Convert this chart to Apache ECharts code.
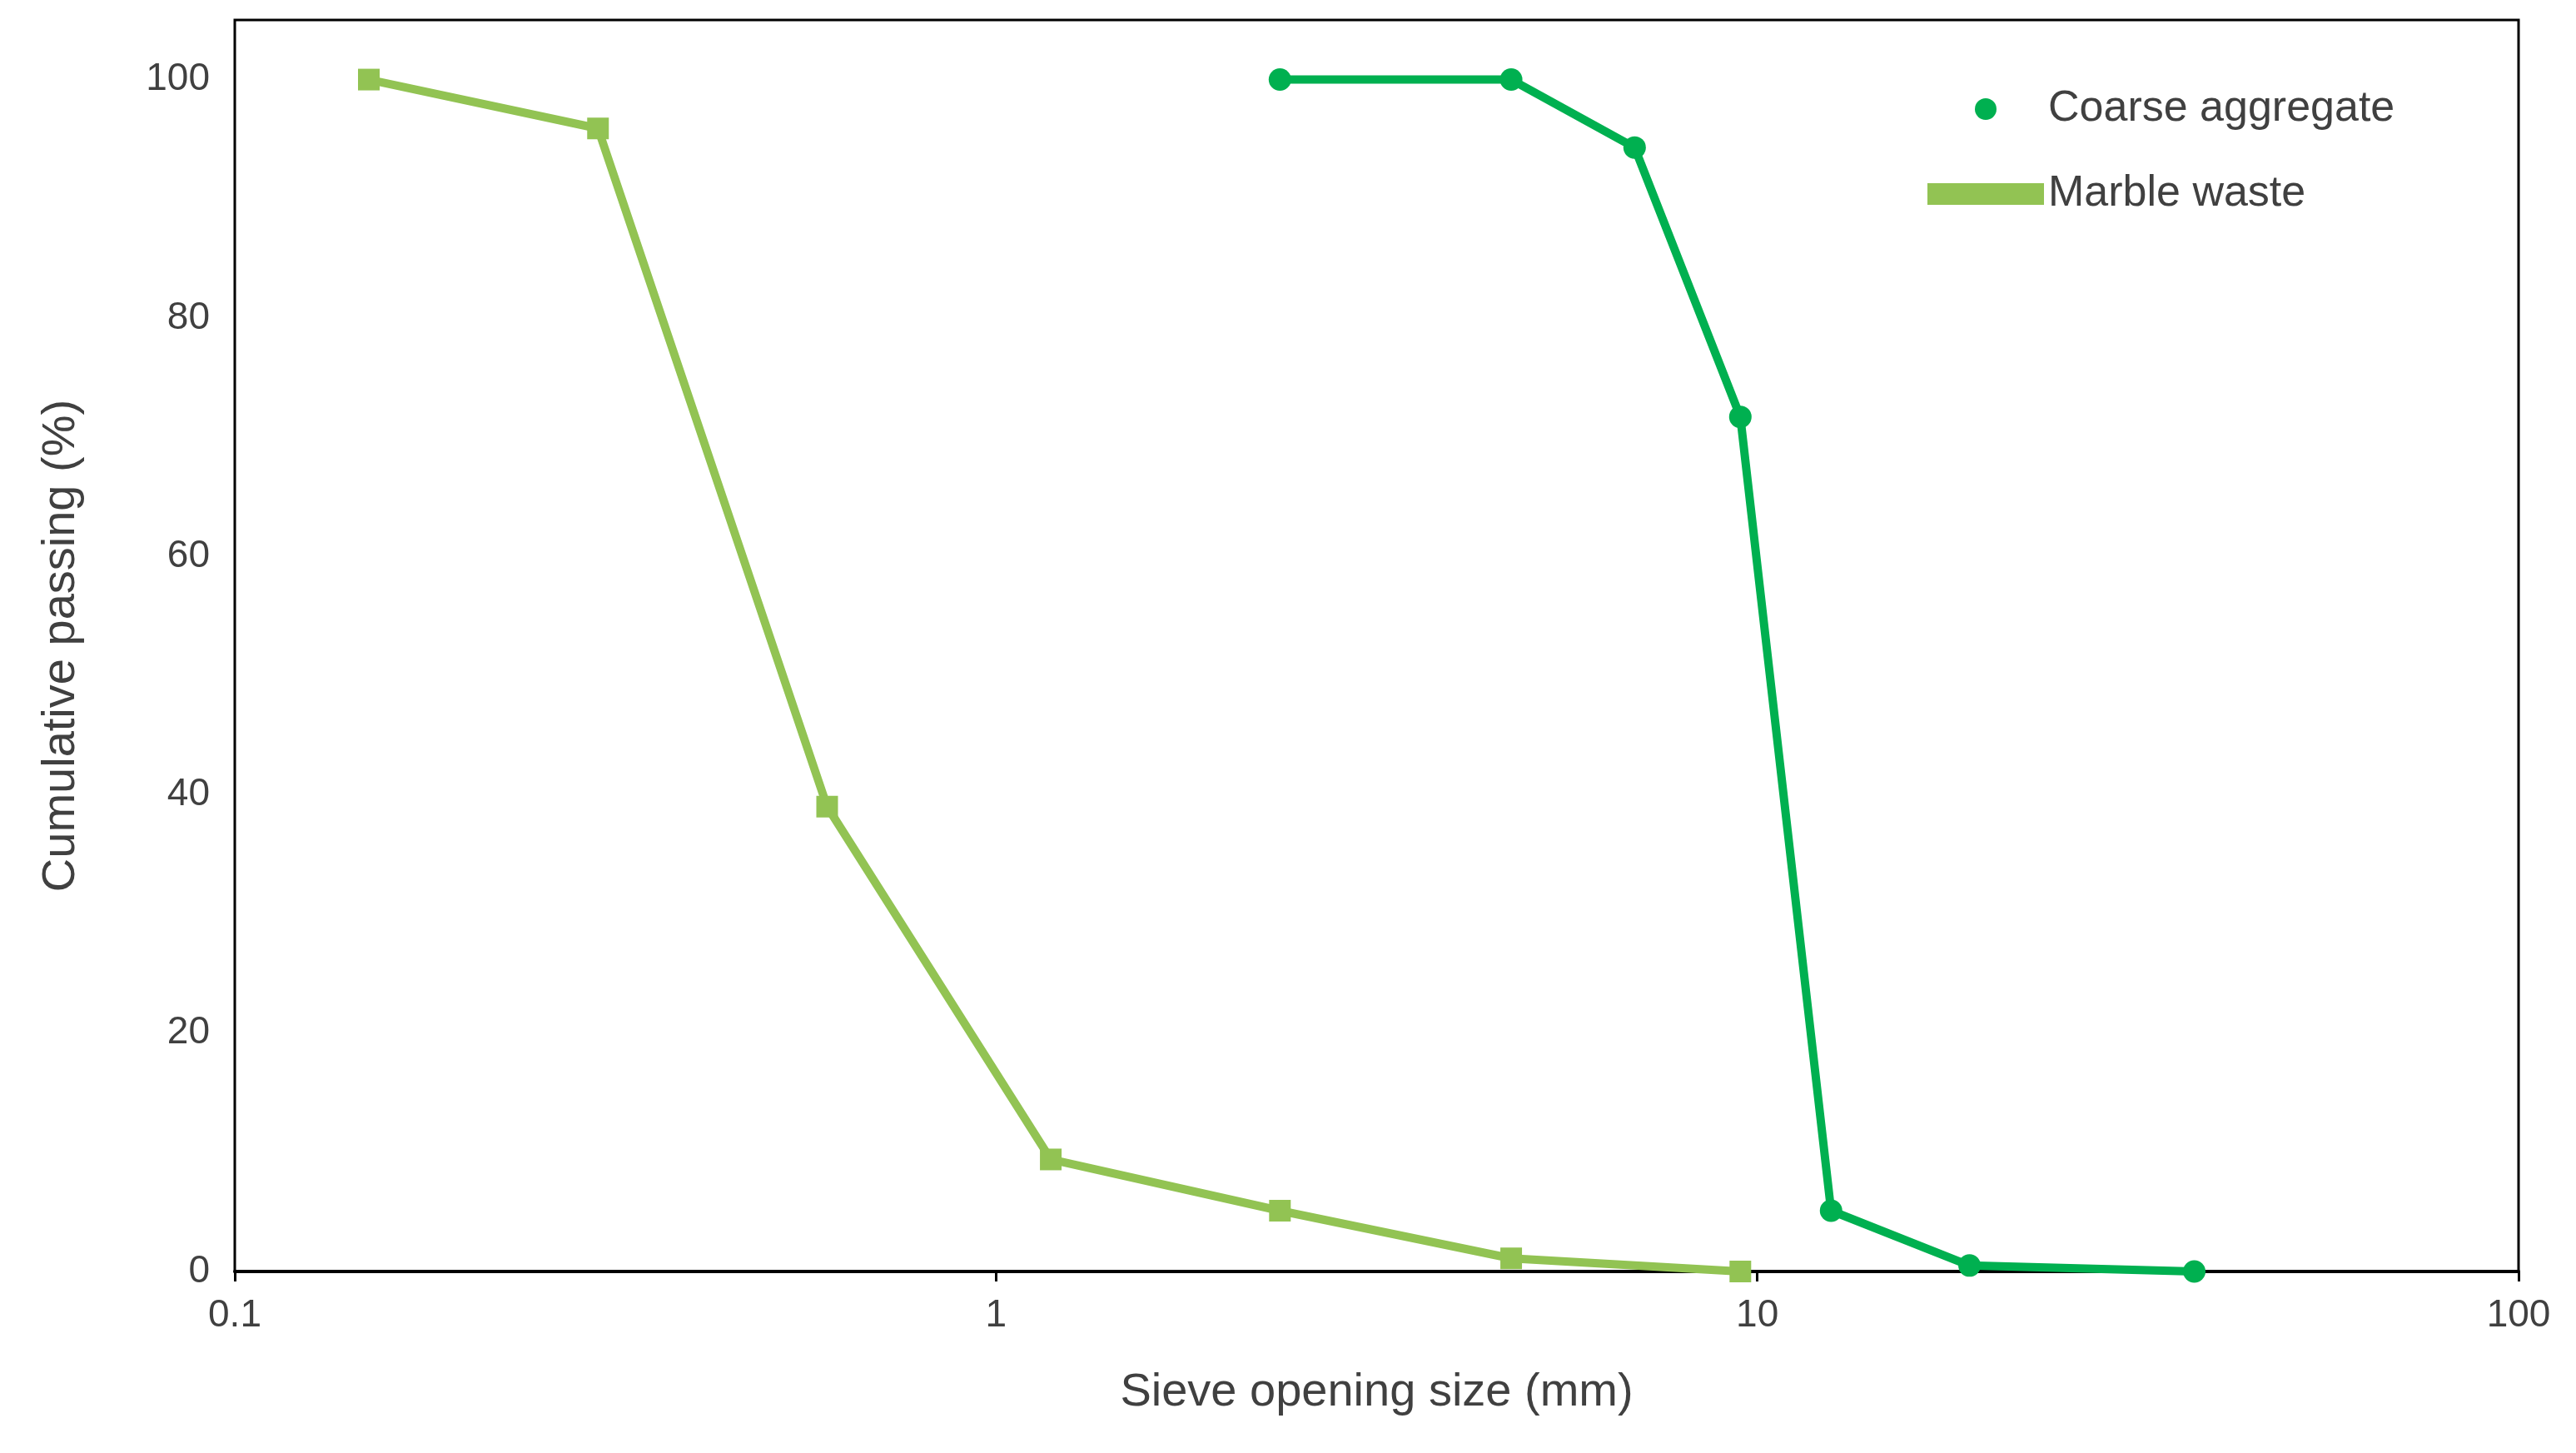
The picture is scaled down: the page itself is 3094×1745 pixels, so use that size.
<!DOCTYPE html>
<html>
<head>
<meta charset="utf-8">
<script src="https://cdn.jsdelivr.net/npm/echarts@6/dist/echarts.min.js"></script>
<style>html,body{margin:0;padding:0;background:#fff}#chart{width:3094px;height:1745px}</style>
</head>
<body>
<div id="chart"></div>
<script>
var coarseSize = [2.36, 4.75, 6.9, 9.5, 12.5, 19, 37.5];
var coarsePass = [100, 100, 94.3, 71.7, 5.1, 0.5, 0];
var marbleSize = [0.15, 0.3, 0.6, 1.18, 2.36, 4.75, 9.5];
var marblePass = [100, 95.9, 39.0, 9.4, 5.1, 1.1, 0];
var yTicks = [0, 20, 40, 60, 80, 100];

function pairs(xs, ys) {
    return xs.map(function (x, i) { return [x, ys[i]]; });
}

var chart = echarts.init(document.getElementById('chart'));
var font = 'Liberation Sans, Arial, sans-serif';
chart.setOption({
    animation: false,
    textStyle: {fontFamily: font},
    grid: {left: 282, right: 69, top: 24, bottom: 218, show: true, borderColor: '#000', borderWidth: 3},
    legend: {
        orient: 'vertical', left: 2310, top: 100, itemGap: 50,
        itemWidth: 140, itemHeight: 26,
        textStyle: {fontSize: 52, color: '#404040', fontFamily: font},
        data: [{name: 'Coarse aggregate', icon: 'circle'}, {name: 'Marble waste', icon: 'rect'}]
    },
    xAxis: {
        type: 'log', logBase: 10, min: 0.1, max: 100,
        name: 'Sieve opening size (mm)', nameLocation: 'middle', nameGap: 118,
        nameTextStyle: {fontSize: 56, color: '#404040'},
        axisLine: {lineStyle: {color: '#000', width: 4}},
        axisTick: {show: true, length: 12, lineStyle: {color: '#000', width: 3}},
        minorTick: {show: false},
        splitLine: {show: false},
        axisLabel: {fontSize: 46, color: '#404040', margin: 30,
            formatter: function (v) { return String(v); }}
    },
    yAxis: {
        type: 'value', min: 0, max: 105, interval: 20,
        name: 'Cumulative passing (%)', nameLocation: 'middle', nameGap: 180,
        nameTextStyle: {fontSize: 56, color: '#404040'},
        axisLine: {show: false}, axisTick: {show: false}, splitLine: {show: false},
        axisLabel: {fontSize: 46, color: '#404040', margin: 30,
            formatter: function (v) { return yTicks.indexOf(v) >= 0 ? v : ''; }}
    },
    series: [{
        name: 'Coarse aggregate', type: 'line', data: pairs(coarseSize, coarsePass),
        symbol: 'circle', symbolSize: 27,
        lineStyle: {color: '#00B050', width: 10}, itemStyle: {color: '#00B050'}
    }, {
        name: 'Marble waste', type: 'line', data: pairs(marbleSize, marblePass),
        symbol: 'rect', symbolSize: 26,
        lineStyle: {color: '#92C353', width: 10}, itemStyle: {color: '#92C353'}
    }]
});
</script>
</body>
</html>
